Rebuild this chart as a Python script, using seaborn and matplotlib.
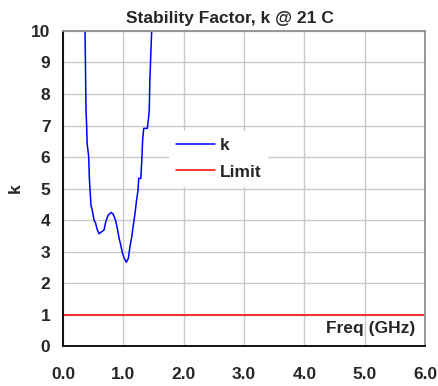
import numpy as np
import pandas as pd
import matplotlib
matplotlib.use("Agg")
import matplotlib.pyplot as plt
import seaborn as sns
from matplotlib.ticker import MultipleLocator

# ── Data ─────────────────────────────────────────────────────────
freq_ghz = [0.355, 0.365, 0.372, 0.381, 0.393, 0.40, 0.426, 0.436, 0.448, 0.464,
            0.49, 0.514, 0.54, 0.57, 0.60, 0.64, 0.68, 0.71, 0.75, 0.80,
            0.83, 0.87, 0.90, 0.93, 0.957, 0.98, 1.017, 1.05, 1.083, 1.11,
            1.14, 1.166, 1.194, 1.22, 1.244, 1.255, 1.29, 1.305, 1.32, 1.338,
            1.398, 1.415, 1.43, 1.44, 1.47, 1.48]
k_factor = [10.6, 10.0, 9.0, 7.49, 6.96, 6.44, 6.01, 5.38, 4.95, 4.48,
            4.26, 4.0, 3.9, 3.68, 3.56, 3.63, 3.68, 3.95, 4.16, 4.24,
            4.19, 4.0, 3.74, 3.42, 3.21, 2.99, 2.78, 2.66, 2.78, 3.15,
            3.47, 3.84, 4.21, 4.64, 4.95, 5.32, 5.32, 5.85, 6.54, 6.91,
            6.91, 7.18, 7.49, 8.44, 10.0, 10.6]

limit_freq = [0.0, 6.0]
limit_k = [1.0, 1.0]

xticks = [0, 1, 2, 3, 4, 5, 6]
xtick_labels = ["0.0", "1.0", "2.0", "3.0", "4.0", "5.0", "6.0"]

df_k = pd.DataFrame({"Freq": freq_ghz, "k": k_factor})
df_lim = pd.DataFrame({"Freq": limit_freq, "k": limit_k})

# ── Style ────────────────────────────────────────────────────────
sns.set_style("white")
plt.rcParams["font.family"] = ["Liberation Sans", "DejaVu Sans"]
plt.rcParams["font.weight"] = "bold"
FS = 12.5

fig = plt.figure(figsize=(4.38, 3.86), dpi=100)
ax = fig.add_axes([0.1438, 0.1036, 0.8265, 0.8161])

sns.lineplot(data=df_k, x="Freq", y="k", ax=ax, color="#0000FF",
             linewidth=1.1, sort=False, label="k")
sns.lineplot(data=df_lim, x="Freq", y="k", ax=ax, color="#FF0000",
             linewidth=1.1, label="Limit")

ax.set_xlim(0, 6)
ax.set_ylim(0, 10)
ax.set_xticks(xticks)
ax.set_xticklabels(xtick_labels, fontsize=FS, fontweight="bold")
ax.xaxis.set_minor_locator(MultipleLocator(0.2))
ax.set_yticks(range(0, 11))
ax.set_yticklabels([str(v) for v in range(0, 11)], fontsize=FS,
                   fontweight="bold")

ax.grid(True, which="major", color="#C8C8C8", linewidth=1.0)
ax.set_axisbelow(True)

ax.tick_params(axis="x", which="major", direction="in", length=4,
               width=1, pad=15, color="black")
ax.tick_params(axis="x", which="minor", direction="in", length=3,
               width=1, color="black")
ax.tick_params(axis="y", which="major", direction="in", length=5,
               width=1, pad=9, color="black")

for side in ["left", "bottom"]:
    ax.spines[side].set_color("black")
    ax.spines[side].set_linewidth(1.3)
for side in ["top", "right"]:
    ax.spines[side].set_color("#909090")
    ax.spines[side].set_linewidth(1.3)

ax.set_xlabel("")
ax.set_ylabel("k", fontsize=FS, fontweight="bold", labelpad=6)
fig.text(0.524, 0.953, "Stability Factor, k @ 21 C", ha="center",
         va="center", fontsize=FS, fontweight="bold")

ax.text(0.972, 0.057, "Freq (GHz)", transform=ax.transAxes, ha="right",
        va="center", fontsize=FS, fontweight="bold")

leg = ax.legend(loc="upper left", bbox_to_anchor=(0.27, 0.71), frameon=True,
                fancybox=False, framealpha=1.0, edgecolor="white",
                handlelength=2.2, handletextpad=0.3, labelspacing=0.65,
                prop={"weight": "bold", "size": FS})
leg.get_frame().set_linewidth(0)

fig.savefig("out.png", dpi=100)
